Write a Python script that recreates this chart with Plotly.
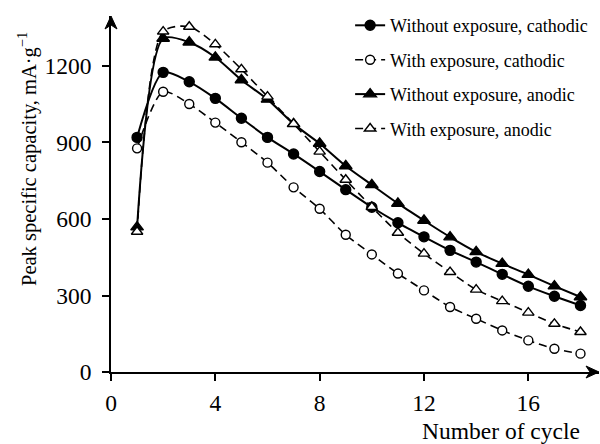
import plotly.graph_objects as go

# Cycle numbers and peak specific capacity (mA/g) for each series
cycles = list(range(1, 19))
without_cathodic = [920, 1175, 1138, 1073, 995, 920, 855, 786, 715, 646, 585, 530, 477, 431, 383, 336, 297, 261]
with_cathodic = [877, 1099, 1051, 978, 901, 821, 724, 640, 538, 461, 386, 320, 255, 209, 163, 124, 91, 72]
without_anodic = [568, 1308, 1293, 1234, 1145, 1069, 973, 896, 808, 734, 661, 594, 529, 471, 425, 382, 337, 294]
with_anodic = [550, 1335, 1354, 1285, 1187, 1080, 973, 864, 754, 647, 546, 464, 392, 323, 278, 233, 189, 157]

x_ticks = [0, 4, 8, 12, 16]
y_ticks = [0, 300, 600, 900, 1200]

FONT = "Liberation Serif"
DASH = "8px,5px"

series = [
    ("Without exposure, cathodic", without_cathodic, "circle", "black", 10, "solid", 2),
    ("With exposure, cathodic", with_cathodic, "circle", "white", 9, DASH, 1.6),
    ("Without exposure, anodic", without_anodic, "triangle-up", "black", 11, "solid", 2),
    ("With exposure, anodic", with_anodic, "triangle-up", "white", 10, DASH, 1.6),
]

fig = go.Figure()
for i, (name, vals, sym, fill, size, dash, lw) in enumerate(series):
    fig.add_trace(go.Scatter(
        x=cycles, y=vals, name=name, mode="lines+markers",
        legendgroup=f"g{i}",
        line=dict(color="black", width=lw, dash=dash, shape="spline", smoothing=0.75),
        marker=dict(symbol=sym, size=size, color=fill, line=dict(color="black", width=1.4)),
    ))

axis_common = dict(
    showline=True, linecolor="black", linewidth=1.6,
    ticks="outside", ticklen=7, tickwidth=1.6, tickcolor="black",
    showgrid=False, zeroline=False,
    tickfont=dict(family=FONT, size=23.5, color="black"),
)

# Plot-area geometry (pixels)
ML, MR, MT, MB = 111, 1, 16, 72
W, H = 600, 444
plot_w = W - ML - MR
plot_h = H - MT - MB


def px_to_paper(px, py):
    return (px - ML) / plot_w, (H - MB - py) / plot_h


fig.update_layout(
    width=W, height=H,
    margin=dict(l=ML, r=MR, t=MT, b=MB),
    paper_bgcolor="white", plot_bgcolor="white",
    font=dict(family=FONT, color="black"),
    xaxis=dict(range=[0, 18.71], tickvals=x_ticks, ticklabelstandoff=2, **axis_common),
    yaxis=dict(range=[0, 1396], tickvals=y_ticks, ticklabelstandoff=6, **axis_common),
    showlegend=True,
    legend=dict(
        x=0.49, y=1.025, xanchor="left", yanchor="top",
        font=dict(family=FONT, size=18, color="black"),
        bgcolor="rgba(0,0,0,0)", tracegroupgap=8,
    ),
)

# Arrowheads at the ends of both axes (stealth shape, sized in pixels)
sx, sy = 1 / plot_w, 1 / plot_h
up_arrow = (f"M 0,1 L {-6*sx},{1-13*sy} L 0,{1-9*sy} L {6*sx},{1-13*sy} Z")
right_arrow = (f"M 1,0 L {1-13*sx},{6*sy} L {1-9*sx},0 L {1-13*sx},{-6*sy} Z")
for p in (up_arrow, right_arrow):
    fig.add_shape(type="path", path=p, xref="paper", yref="paper",
                  fillcolor="black", line=dict(color="black", width=1))

# Axis titles
tx, ty = px_to_paper(582, 431)
fig.add_annotation(x=tx, y=ty, xref="paper", yref="paper", text="Number of cycle",
                   showarrow=False, xanchor="right", yanchor="middle",
                   font=dict(family=FONT, size=23.5, color="black"))
yx, yy = px_to_paper(27, 159)
fig.add_annotation(x=yx, y=yy, xref="paper", yref="paper",
                   text="Peak specific capacity, mA·g<sup>−1</sup>",
                   showarrow=False, textangle=-90, xanchor="center", yanchor="middle",
                   font=dict(family=FONT, size=20.5, color="black"))

fig.write_html("out.html")
